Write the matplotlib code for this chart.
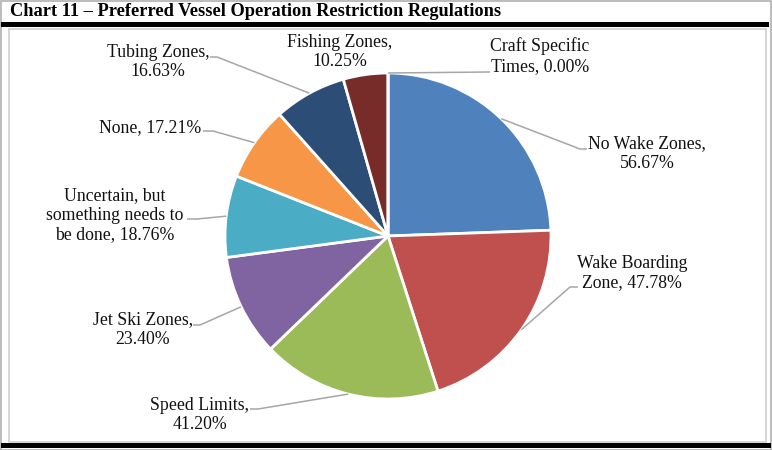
import matplotlib
matplotlib.use("Agg")
import matplotlib.pyplot as plt
from matplotlib.patches import Rectangle
import numpy as np

# ---- data ----
categories = ["No Wake Zones", "Wake Boarding Zone", "Speed Limits", "Jet Ski Zones",
              "Uncertain, but something needs to be done", "None", "Tubing Zones",
              "Fishing Zones", "Craft Specific Times"]
values = [56.67, 47.78, 41.20, 23.40, 18.76, 17.21, 16.63, 10.25, 0.00]
label_texts = ["No Wake Zones,\n56.67%", "Wake Boarding\nZone, 47.78%", "Speed Limits,\n41.20%",
               "Jet Ski Zones,\n23.40%", "Uncertain, but\nsomething needs to\nbe done, 18.76%",
               "None, 17.21%", "Tubing Zones,\n16.63%", "Fishing Zones,\n10.25%",
               "Craft Specific\nTimes, 0.00%"]
title = "Chart 11 \u2013 Preferred Vessel Operation Restriction Regulations"

colors = ["#4F81BD", "#C0504D", "#9BBB59", "#8064A2", "#4BACC6", "#F79646",
          "#2C4D75", "#772C2A", "#5F7530"]

# ---- layout (pixel coordinates, y from top) ----
W, H = 772, 450
cx, cy, R = 388, 236, 163
label_pos = [(647, 154), (632, 273), (200, 415), (143, 330), (115, 215),
             (150, 128), (158, 62), (340, 52), (540, 56)]
leader_elbow = [(580, 149), (570, 287), (258, 409), (200, 325), (197, 219),
                (213, 131), (217, 57), None, (488, 72)]
leader_end = [(587, 149), (578, 287), (250, 409), (193, 325), (187, 219),
              (203, 131), (210, 57), None, (490, 72)]

fig = plt.figure(figsize=(W / 100, H / 100), dpi=100)
ax = fig.add_axes([0, 0, 1, 1])

def Y(y):
    return H - y

serif = ["Liberation Serif", "DejaVu Serif"]

wedges, _ = ax.pie(values, colors=colors, startangle=90, counterclock=False,
                   center=(cx, Y(cy)), radius=R,
                   wedgeprops=dict(edgecolor="white", linewidth=2))

# leader lines from mid-angle on slice edge
total = sum(values)
ang = 90.0
for i, v in enumerate(values):
    sweep = 360.0 * v / total
    mid = np.deg2rad(ang - sweep / 2)
    ang -= sweep
    if leader_end[i] is None:
        continue
    px = cx + R * np.cos(mid)
    py = Y(cy) + R * np.sin(mid)
    bx, by = leader_elbow[i]
    ex, ey = leader_end[i]
    ax.plot([px, bx, ex], [py, Y(by), Y(ey)], color="#A6A6A6", lw=1.1,
            solid_capstyle="butt", zorder=3)

for t, (x, y) in zip(label_texts, label_pos):
    ax.text(x, Y(y), t, ha="center", va="center", fontsize=12.8,
            family=serif, color="#111111", linespacing=1.22, zorder=4)

# frames
ax.add_patch(Rectangle((0.5, 0.5), W - 1.5, H - 1.5, fill=False, ec="#B0B0B0", lw=1.2, zorder=1))
ax.add_patch(Rectangle((9, Y(442)), 757, 442 - 29, fill=False, ec="#D0D0D0", lw=1.2, zorder=1))
ax.add_patch(Rectangle((1, Y(27)), 768, 5, fc="black", ec="none", zorder=5))
ax.add_patch(Rectangle((1, Y(448)), 770, 5, fc="black", ec="none", zorder=5))

ax.text(10, Y(12), title, ha="left", va="center", fontsize=13.2, fontweight="bold",
        family=serif, color="black")

ax.set_xlim(0, W)
ax.set_ylim(0, H)
ax.set_aspect("equal", adjustable="box")
ax.axis("off")

fig.savefig("out.png", dpi=100)
